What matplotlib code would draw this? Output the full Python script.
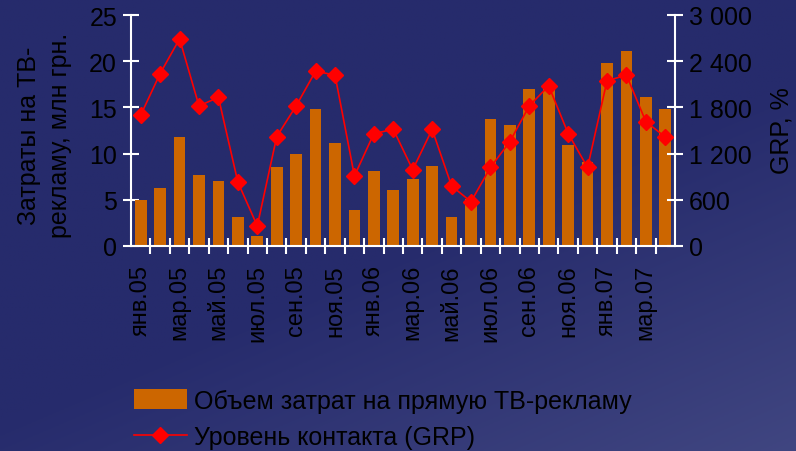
import numpy as np
import matplotlib
matplotlib.use("Agg")
import matplotlib.pyplot as plt
from matplotlib.lines import Line2D
from matplotlib.patches import Patch

months = ["янв.05", "фев.05", "мар.05", "апр.05", "май.05", "июн.05", "июл.05",
          "авг.05", "сен.05", "окт.05", "ноя.05", "дек.05",
          "янв.06", "фев.06", "мар.06", "апр.06", "май.06", "июн.06", "июл.06",
          "авг.06", "сен.06", "окт.06", "ноя.06", "дек.06",
          "янв.07", "фев.07", "мар.07", "апр.07"]

spend = [5.0, 6.3, 11.8, 7.7, 7.0, 3.1, 1.1, 8.5, 10.0, 14.8, 11.1, 3.9,
         8.1, 6.1, 7.2, 8.7, 3.1, 5.1, 13.7, 13.1, 17.0, 17.3, 10.9, 9.1,
         19.8, 21.1, 16.1, 14.8]

grp = [1700, 2240, 2690, 1820, 1930, 830, 260, 1420, 1820, 2270, 2220, 910,
       1460, 1515, 990, 1515, 780, 575, 1020, 1355, 1820, 2080, 1460, 1020,
       2145, 2220, 1615, 1415]

left_ticks = [0, 5, 10, 15, 20, 25]
right_ticks = [0, 600, 1200, 1800, 2400, 3000]
right_ticklabels = ["0", "600", "1 200", "1 800", "2 400", "3 000"]

bar_color = "#CC6600"
line_color = "#FF0000"

plt.rcParams["font.family"] = ["Liberation Sans", "DejaVu Sans"]

fig = plt.figure(figsize=(7.96, 4.52), dpi=100)

# water-like dark blue background
bg_ax = fig.add_axes([0, 0, 1, 1], zorder=-10)
yy, xx = np.mgrid[0:1:200j, 0:1:200j]
t = np.clip(0.6 * xx + 0.8 * yy - 0.75, 0, 1)
dark = np.array([38, 43, 108]) / 255
light = np.array([78, 84, 140]) / 255
img = dark[None, None, :] * (1 - t[..., None]) + light[None, None, :] * t[..., None]
bg_ax.imshow(img, aspect="auto", extent=[0, 1, 0, 1], origin="upper")
bg_ax.axis("off")

ax = fig.add_axes([131 / 796, 1 - 247 / 452, 544 / 796, 231 / 452])
ax.patch.set_alpha(0)
x = np.arange(len(months))
ax.bar(x, spend, width=0.6, color=bar_color, zorder=2)
ax.set_xlim(-0.5, len(months) - 0.5)
ax.set_ylim(0, 25)
ax.set_yticks(left_ticks)

ax2 = ax.twinx()
ax2.plot(x, grp, color=line_color, lw=1.2, marker="D", markersize=8.5, zorder=3)
ax2.set_ylim(0, 3000)
ax2.set_yticks(right_ticks)
ax2.set_yticklabels(right_ticklabels)

for a in (ax, ax2):
    for s in a.spines.values():
        s.set_visible(False)
    a.tick_params(axis="y", colors="white", labelcolor="black", direction="inout",
                  length=12, width=1.5, labelsize=18, pad=4)
for a, side in ((ax, "left"), (ax, "bottom"), (ax2, "right")):
    a.spines[side].set_visible(True)
    a.spines[side].set_color("white")
    a.spines[side].set_linewidth(1.5)

ax.set_xticks(x[::2])
ax.set_xticklabels(months[::2], rotation=90, fontsize=17, color="black")
ax.set_xticks(np.arange(0.5, len(months) - 0.5, 1), minor=True)
ax.tick_params(axis="x", which="major", length=0, pad=13)
ax.tick_params(axis="x", which="minor", colors="white", direction="inout",
               length=12, width=1.5)

fig.text(0.056, 0.70, "Затраты на ТВ-\nрекламу, млн грн.", rotation=90,
         ha="center", va="center", fontsize=18, linespacing=1.4, color="black")
fig.text(0.982, 0.71, "GRP, %", rotation=90, ha="center", va="center",
         fontsize=18, color="black")

handles = [Patch(facecolor=bar_color, edgecolor="none"),
           Line2D([0], [0], color=line_color, lw=1.2, marker="D", markersize=8.5)]
labels = ["Объем затрат на прямую ТВ-рекламу", "Уровень контакта (GRP)"]
fig.legend(handles, labels, loc="upper left", bbox_to_anchor=(0.156, 0.16),
           frameon=False, handlelength=2.1, handleheight=0.8,
           labelspacing=0.5, handletextpad=0.3, borderaxespad=0,
           prop={"family": ["Liberation Sans", "DejaVu Sans"], "size": 18})

fig.savefig("out.png", dpi=100)
